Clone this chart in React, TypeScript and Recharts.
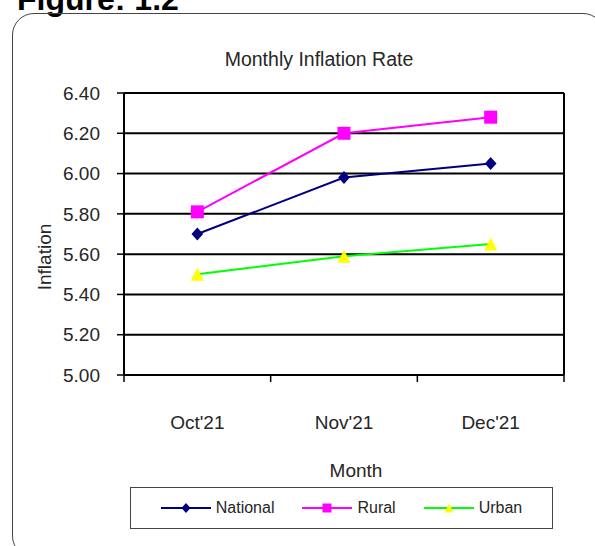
import React from 'react';
import { LineChart, Line, XAxis, YAxis, CartesianGrid, Legend } from 'recharts';

const months = ["Oct'21", "Nov'21", "Dec'21"];
const national = [5.7, 5.98, 6.05];
const rural = [5.81, 6.2, 6.28];
const urban = [5.5, 5.59, 5.65];
const yTicks = [5.0, 5.2, 5.4, 5.6, 5.8, 6.0, 6.2, 6.4];

const seriesNames = ['National', 'Rural', 'Urban'];
const seriesColors = ['#000080', '#FF00FF', '#00FF00'];
const markerColors = ['#000080', '#FF00FF', '#FFFF00'];

const data = months.map((m, i) => ({
  month: m,
  National: national[i],
  Rural: rural[i],
  Urban: urban[i],
}));

const FONT = '"Liberation Sans", Arial, Helvetica, sans-serif';
const TEXT = '#262626';
const X_TICK_MARGIN = 40;

const Marker = ({ kind, cx, cy, size }: { kind: number; cx: number; cy: number; size: number }) => {
  if (cx == null || cy == null) return null;
  const h = size / 2;
  if (kind === 0) {
    const w = h * 0.9;
    return <polygon points={`${cx},${cy - h} ${cx + w},${cy} ${cx},${cy + h} ${cx - w},${cy}`} fill={markerColors[0]} />;
  }
  if (kind === 1) {
    return <rect x={cx - h} y={cy - h} width={size} height={size} fill={markerColors[1]} />;
  }
  return <polygon points={`${cx},${cy - h} ${cx + h},${cy + h} ${cx - h},${cy + h}`} fill={markerColors[2]} />;
};

const makeDot = (kind: number) => (p: any) => (
  <Marker key={`d-${kind}-${p.index}`} kind={kind} cx={p.cx} cy={p.cy} size={13} />
);

const MonthTick = (p: any) => {
  const count = p.visibleTicksCount || months.length;
  const band = p.width / count;
  const cx = p.x;
  const axisY = p.y - X_TICK_MARGIN;
  const edges = [cx - band / 2];
  if (p.index === count - 1) edges.push(cx + band / 2);
  return (
    <g>
      {edges.map((ex, k) => (
        <line key={k} x1={ex} y1={axisY} x2={ex} y2={axisY + 7} stroke="#000" strokeWidth={1.5} />
      ))}
      <text
        x={cx}
        y={p.y + 7}
        textAnchor="middle"
        dominantBaseline="central"
        fontFamily={FONT}
        fontSize={19}
        fill={TEXT}
      >
        {p.payload.value}
      </text>
    </g>
  );
};

const LegendBox = (props: any) => {
  const payload = (props.payload || []) as any[];
  return (
    <div
      style={{
        boxSizing: 'border-box',
        width: 423,
        height: 42,
        border: '1.5px solid #444',
        background: '#fff',
        display: 'flex',
        alignItems: 'center',
        justifyContent: 'center',
        gap: 28,
        fontFamily: FONT,
        fontSize: 16,
        color: TEXT,
      }}
    >
      {seriesNames.map((name, i) => {
        const entry = payload.find((e) => e.value === name);
        const color = entry ? entry.color : seriesColors[i];
        return (
          <div key={name} style={{ display: 'flex', alignItems: 'center' }}>
            <svg width={50} height={14}>
              <line x1={0} y1={7} x2={50} y2={7} stroke={color} strokeWidth={2} />
              <Marker kind={i} cx={25} cy={7} size={i === 0 ? 10 : 9} />
            </svg>
            <span style={{ marginLeft: 5 }}>{name}</span>
          </div>
        );
      })}
    </div>
  );
};

export default function App() {
  return (
    <div style={{ position: 'absolute', left: 0, top: 0, width: 595, height: 546, overflow: 'hidden', background: '#fff' }}>
      <svg width={595} height={20} style={{ position: 'absolute', left: 0, top: 0 }}>
        <text x={17} y={10} fontFamily={FONT} fontWeight="bold" fontSize={32} fill="#000">
          Figure: 1.2
        </text>
      </svg>
      <div
        style={{
          position: 'absolute',
          left: 12,
          top: 13,
          width: 593,
          height: 545,
          boxSizing: 'border-box',
          border: '1.5px solid #444',
          borderRadius: 22,
        }}
      />
      <div
        style={{
          position: 'absolute',
          left: 0,
          top: 48,
          width: 638,
          textAlign: 'center',
          fontFamily: FONT,
          fontSize: 19.5,
          color: TEXT,
          lineHeight: '22px',
        }}
      >
        Monthly Inflation Rate
      </div>
      <div style={{ position: 'absolute', left: 0, top: 0 }}>
        <LineChart
          width={595}
          height={546}
          data={data}
          margin={{ top: 93, right: 31, left: 64, bottom: 131 }}
        >
          <CartesianGrid
            stroke="#000"
            strokeWidth={2}
            fill="#fff"
            verticalCoordinatesGenerator={(p: any) => [p.offset.left, p.offset.left + p.offset.width]}
          />
          <XAxis
            dataKey="month"
            type="category"
            scale="band"
            tickLine={false}
            tickSize={0}
            tickMargin={X_TICK_MARGIN}
            axisLine={{ stroke: '#000', strokeWidth: 2 }}
            height={40}
            interval={0}
            tick={MonthTick}
            label={{
              value: 'Month',
              content: (p: any) => {
                const vb = p.viewBox || { x: 124, y: 375, width: 440, height: 40 };
                return (
                  <text
                    x={vb.x + vb.width / 2 + 12}
                    y={vb.y + 95}
                    textAnchor="middle"
                    dominantBaseline="central"
                    fontFamily={FONT}
                    fontSize={19}
                    fill={TEXT}
                  >
                    Month
                  </text>
                );
              },
            }}
          />
          <YAxis
            domain={[5, 6.4]}
            ticks={yTicks}
            interval={0}
            width={60}
            tickFormatter={(v: number) => v.toFixed(2)}
            tickSize={7}
            tickMargin={17}
            tickLine={{ stroke: '#000', strokeWidth: 1.5 }}
            axisLine={{ stroke: '#000', strokeWidth: 2 }}
            tick={{ fontFamily: FONT, fontSize: 19, fill: TEXT }}
            label={{
              value: 'Inflation',
              content: (p: any) => {
                const vb = p.viewBox || { x: 64, y: 93, width: 60, height: 282 };
                const cx = vb.x - 20;
                const cy = vb.y + vb.height / 2 + 23;
                return (
                  <text
                    x={cx}
                    y={cy}
                    transform={`rotate(-90 ${cx} ${cy})`}
                    textAnchor="middle"
                    dominantBaseline="central"
                    fontFamily={FONT}
                    fontSize={19}
                    fill={TEXT}
                  >
                    Inflation
                  </text>
                );
              },
            }}
          />
          <Legend
            layout="horizontal"
            verticalAlign="middle"
            align="center"
            content={<LegendBox />}
            wrapperStyle={{ left: 130, top: 487, width: 423, height: 42 }}
          />
          {seriesNames.map((name, i) => (
            <Line
              key={name}
              type="linear"
              dataKey={name}
              name={name}
              stroke={seriesColors[i]}
              strokeWidth={2}
              dot={makeDot(i)}
              activeDot={false}
              isAnimationActive={false}
            />
          ))}
        </LineChart>
      </div>
    </div>
  );
}
